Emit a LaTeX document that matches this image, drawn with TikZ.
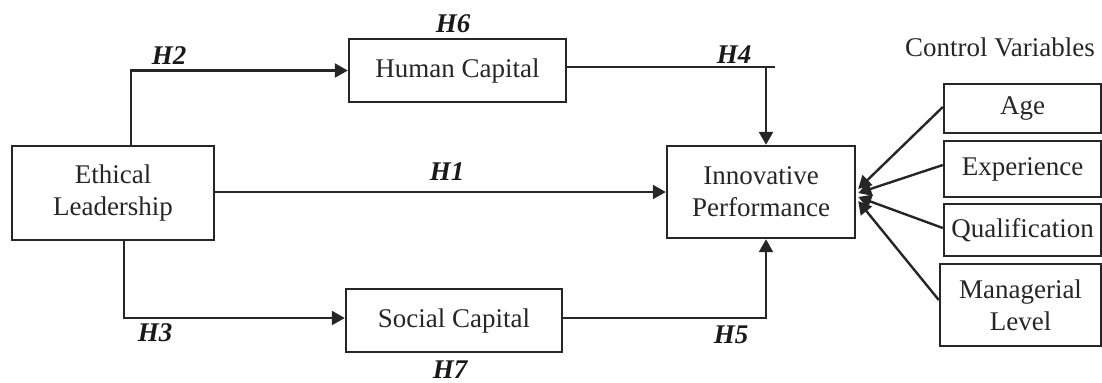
\documentclass[tikz,border=0pt]{standalone}
\usepackage{fontspec}
\setmainfont{Liberation Serif}
\usetikzlibrary{arrows.meta,calc}
\begin{document}
\begin{tikzpicture}[x=0.5pt,y=-0.5pt,
  box/.style={draw=black!85,line width=1.2pt,inner sep=0pt,align=center,text=black!85,font=\fontsize{13.5}{16}\selectfont},
  lbl/.style={text=black!90,font=\fontsize{13.5}{16}\selectfont\bfseries\itshape},
  plain/.style={text=black!85,font=\fontsize{13.5}{16}\selectfont},
  conn/.style={draw=black!85,line width=1.2pt},
  arr/.style={draw=black!85,line width=1.2pt,-{Triangle[length=6.5pt,width=7pt]}}]
\useasboundingbox (0,0) rectangle (1102,382);
% boxes
\node[box,minimum width=101pt,minimum height=47pt] (EL) at (113,193) {Ethical\\Leadership};
\node[box,minimum width=108.5pt,minimum height=31.5pt] (HC) at (457.5,70.5) {Human Capital};
\node[box,minimum width=94pt,minimum height=46pt] (IP) at (761,192) {Innovative\\Performance};
\node[box,minimum width=108pt,minimum height=31.5pt] (SC) at (454,320.5) {Social Capital};
\node[box,minimum width=78.5pt,minimum height=24.5pt] (Age) at (1022.5,108.5) {Age};
\node[box,minimum width=78.5pt,minimum height=28pt] (Exp) at (1022.5,169) {Experience};
\node[box,minimum width=78.5pt,minimum height=26pt] (Qual) at (1022.5,230) {Qualification};
\node[box,minimum width=80.5pt,minimum height=41pt] (Man) at (1020.5,305) {Managerial\\Level};
\node[plain] (CV) at (1000,47) {Control Variables};
% helper coordinates
\coordinate (xa) at (131,0);
\coordinate (xb) at (124,0);
\coordinate (xc) at (766,0);
\coordinate (xd) at (775,0);
\coordinate (hcR) at ($(HC.east)+(0,-3.5)$);
\coordinate (scR) at ($(SC.east)+(0,-2.5)$);
\coordinate (scL) at ($(SC.west)+(0,-2.5)$);
% connectors
\draw[arr] (EL.north -| xa) |- (HC.west);
\draw[arr] (EL.south -| xb) |- (scL);
\draw[arr] (IP.west -| EL.east) -- (IP.west);
\draw[conn] (hcR) -- (hcR -| xd);
\draw[arr] (hcR -| xc) -- (IP.north -| xc);
\draw[arr] (scR) -| (IP.south -| xc);
% control variable arrows
\draw[arr] ($(Age.west)+(0,-1.5)$) -- ($(IP.east)+(2,-3)$);
\draw[arr] ($(Exp.west)+(0,-4)$) -- ($(IP.east)+(2,1)$);
\draw[arr] ($(Qual.west)+(0,-2)$) -- ($(IP.east)+(2,5)$);
\draw[arr] ($(Man.west)+(0,-5)$) -- ($(IP.east)+(2,9)$);
% labels
\node[lbl] (H1) at (447,172) {H1};
\node[lbl] (H2) at (169,56) {H2};
\node[lbl] (H3) at (155,333) {H3};
\node[lbl] (H4) at (734,55) {H4};
\node[lbl] (H5) at (731,335) {H5};
\node[lbl] (H6) at (453,24) {H6};
\node[lbl] (H7) at (450,370) {H7};
\end{tikzpicture}
\end{document}
